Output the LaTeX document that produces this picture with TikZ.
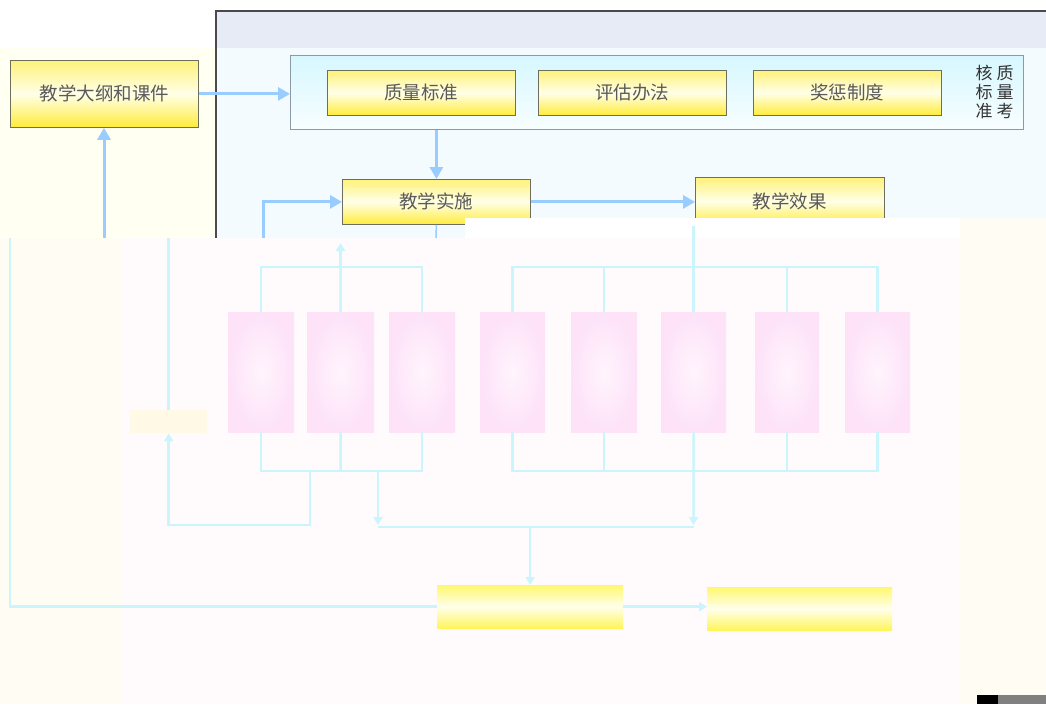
\documentclass[tikz,border=0pt]{standalone}
\usepackage{fontspec}
\setmainfont{Noto Sans CJK SC}
\usetikzlibrary{arrows.meta}
\definecolor{lb}{HTML}{99CCFF}
\definecolor{fc}{HTML}{CAF5FC}
\definecolor{ytop}{HTML}{FFF27A}
\definecolor{ybot}{HTML}{FFEC3A}
\definecolor{ymid}{HTML}{FFFFE8}
\definecolor{txt}{HTML}{5A5A5A}
\definecolor{bd}{HTML}{6E6E5C}
\definecolor{leftbg}{HTML}{FFFFF2}
\definecolor{framebg}{HTML}{F3FBFE}
\definecolor{bandbg}{HTML}{E6EBF5}
\definecolor{framebd}{HTML}{4A4A4A}
\definecolor{creamA}{HTML}{FFFCF3}
\definecolor{pinkbg}{HTML}{FFFAFB}
\definecolor{pnltop}{HTML}{D6F7FF}
\definecolor{pnlbot}{HTML}{F8FEFF}
\definecolor{pnlbd}{HTML}{8A9AA8}
\definecolor{pkin}{HTML}{FFF4FD}
\definecolor{pkout}{HTML}{FDE2F8}
\definecolor{fytop}{HTML}{FFF870}
\definecolor{fymid}{HTML}{FFFFEC}
\definecolor{fybot}{HTML}{FFF55A}
\definecolor{smallbg}{HTML}{FFF9E6}
\tikzset{
  box/.style={draw=bd, line width=0.8pt, top color=ytop, bottom color=ybot, middle color=ymid,
    inner sep=0pt, anchor=north west, text=txt, font=\fontsize{18.5}{18.5}\selectfont},
  arr/.style={draw=lb, line width=3pt, -{Triangle[length=12pt,width=13pt]}},
  thin/.style={draw=lb, line width=1.5pt},
  fl/.style={draw=fc, line width=2.5pt},
  fla/.style={draw=fc, line width=2.5pt, -{Triangle[length=8pt,width=9pt]}},
  pk/.style={inner sep=0pt, anchor=north west, inner color=pkin, outer color=pkout,
    minimum height=120pt},
  fbox/.style={inner sep=0pt, anchor=north west, top color=fytop, bottom color=fybot, middle color=fymid},
  vtext/.style={align=center, text=black!80, font=\fontsize{17}{19}\selectfont, inner sep=0pt},
}
\begin{document}
\begin{tikzpicture}[x=1pt,y=-1pt]
\useasboundingbox (0,0) rectangle (1046,704);
% backgrounds
\fill[white] (0,0) rectangle (1046,704);
\fill[leftbg] (0,48) rectangle (216,238);
\fill[framebg] (216,48) rectangle (1046,238);
\fill[bandbg] (216,11) rectangle (1046,48);
\draw[framebd, line width=1.2pt] (216,238) -- (216,11) -- (1046,11);

% top part
\node[box, minimum width=188pt, minimum height=67pt] (syl) at (10,60) {教学大纲和课件};
\node[draw=pnlbd, line width=0.8pt, top color=pnltop, bottom color=pnlbot, inner sep=0pt,
  anchor=north west, minimum width=733pt, minimum height=74pt] (panel) at (290,55) {};
\node[box, minimum width=188pt, minimum height=45pt] (q1) at (327,70) {质量标准};
\node[box, minimum width=188pt, minimum height=45pt] (q2) at (538,70) {评估办法};
\node[box, minimum width=188pt, minimum height=45pt] (q3) at (753,70) {奖惩制度};
\node[vtext] (vt1) at (1005,92) {质\\量\\考};
\node[vtext] (vt2) at (984,92) {核\\标\\准};
\node[box, minimum width=188pt, minimum height=45pt] (ss) at (342,179) {教学实施};
\node[box, minimum width=189pt, minimum height=48pt] (xg) at (695,177) {教学效果};

% faded overlay
\fill[creamA] (0,238) rectangle (122,704);
\fill[pinkbg] (122,238) rectangle (960,704);
\fill[creamA] (960,238) rectangle (1046,704);
\fill[white] (465,218) rectangle (960,238);
\fill[creamA] (960,218) rectangle (1046,238);

% top connectors
\draw[arr] (syl.east) -- (syl.east -| panel.west);
\coordinate (a1) at (104,238);
\draw[arr] (a1) -- (a1 |- syl.south);
\draw[arr] (panel.south -| ss.north) -- (ss.north);
\coordinate (a2) at (263,238);
\draw[arr] (a2) |- (ss.west);
\draw[arr] (ss.east) -- (ss.east -| xg.west);
\coordinate (a3) at (436,238);
\draw[thin] (ss.south) -- (a3);

% pink boxes
\node[pk, minimum width=66pt] (p1) at (228,312) {};
\node[pk, minimum width=67pt] (p2) at (307,312) {};
\node[pk, minimum width=66pt] (p3) at (389,312) {};
\node[pk, minimum width=65pt] (p4) at (480,312) {};
\node[pk, minimum width=66pt] (p5) at (571,312) {};
\node[pk, minimum width=65pt] (p6) at (661,312) {};
\node[pk, minimum width=64pt] (p7) at (755,312) {};
\node[pk, minimum width=65pt] (p8) at (845,312) {};
\node[inner sep=0pt, anchor=north west, fill=smallbg, minimum width=77pt, minimum height=23pt] (s) at (130,410) {};
\node[fbox, minimum width=186pt, minimum height=43pt] (b1) at (437,585) {};
\node[fbox, minimum width=185pt, minimum height=43pt] (b2) at (707,587) {};

% faded connectors: left tree
\coordinate (lt) at (340.5,267);
\draw[fl] (p1.north) |- (lt) -| (p3.north);
\draw[fl] (p2.north) -- (lt);
\draw[fla] (lt) -- ++(0,-24);
\coordinate (lbus) at (340.5,471);
\draw[fl] (p1.south) |- (lbus) -| (p3.south);
\draw[fl] (p2.south) -- (lbus);
\coordinate (lb1) at (310,471);
\draw[fla] (lb1) -- (310,525) -| (s.south);
\draw[fl] (s.north) -- ++(0,-172);
\coordinate (lb2) at (378,471);
\draw[fla] (lb2) -- (378,525);

% faded connectors: right tree
\coordinate (rt) at (693.5,267);
\draw[fl] (p4.north) |- (rt) -| (p8.north);
\draw[fl] (p5.north) -- (p5.north |- rt);
\draw[fl] (p7.north) -- (p7.north |- rt);
\draw[fl] (p6.north) -- (p6.north |- xg.south);
\coordinate (rbus) at (693.5,471);
\draw[fl] (p4.south) |- (rbus) -| (p8.south);
\draw[fl] (p5.south) -- (p5.south |- rbus);
\draw[fl] (p7.south) -- (p7.south |- rbus);
\draw[fla] (p6.south) -- (693.5,525);
\coordinate (busl) at (378,527);
\coordinate (busr) at (693.5,527);
\draw[fl] (busl) -- (busr);
\draw[fla] (b1.north |- busl) -- (b1.north);
\draw[fla] (b1.east) -- (b1.east -| b2.west);
\coordinate (le) at (10,238);
\draw[fl] (le) |- (b1.west);

% player bar
\fill[black] (977,695) rectangle (998,704);
\fill[gray] (998,695) rectangle (1046,704);
\end{tikzpicture}
\end{document}
